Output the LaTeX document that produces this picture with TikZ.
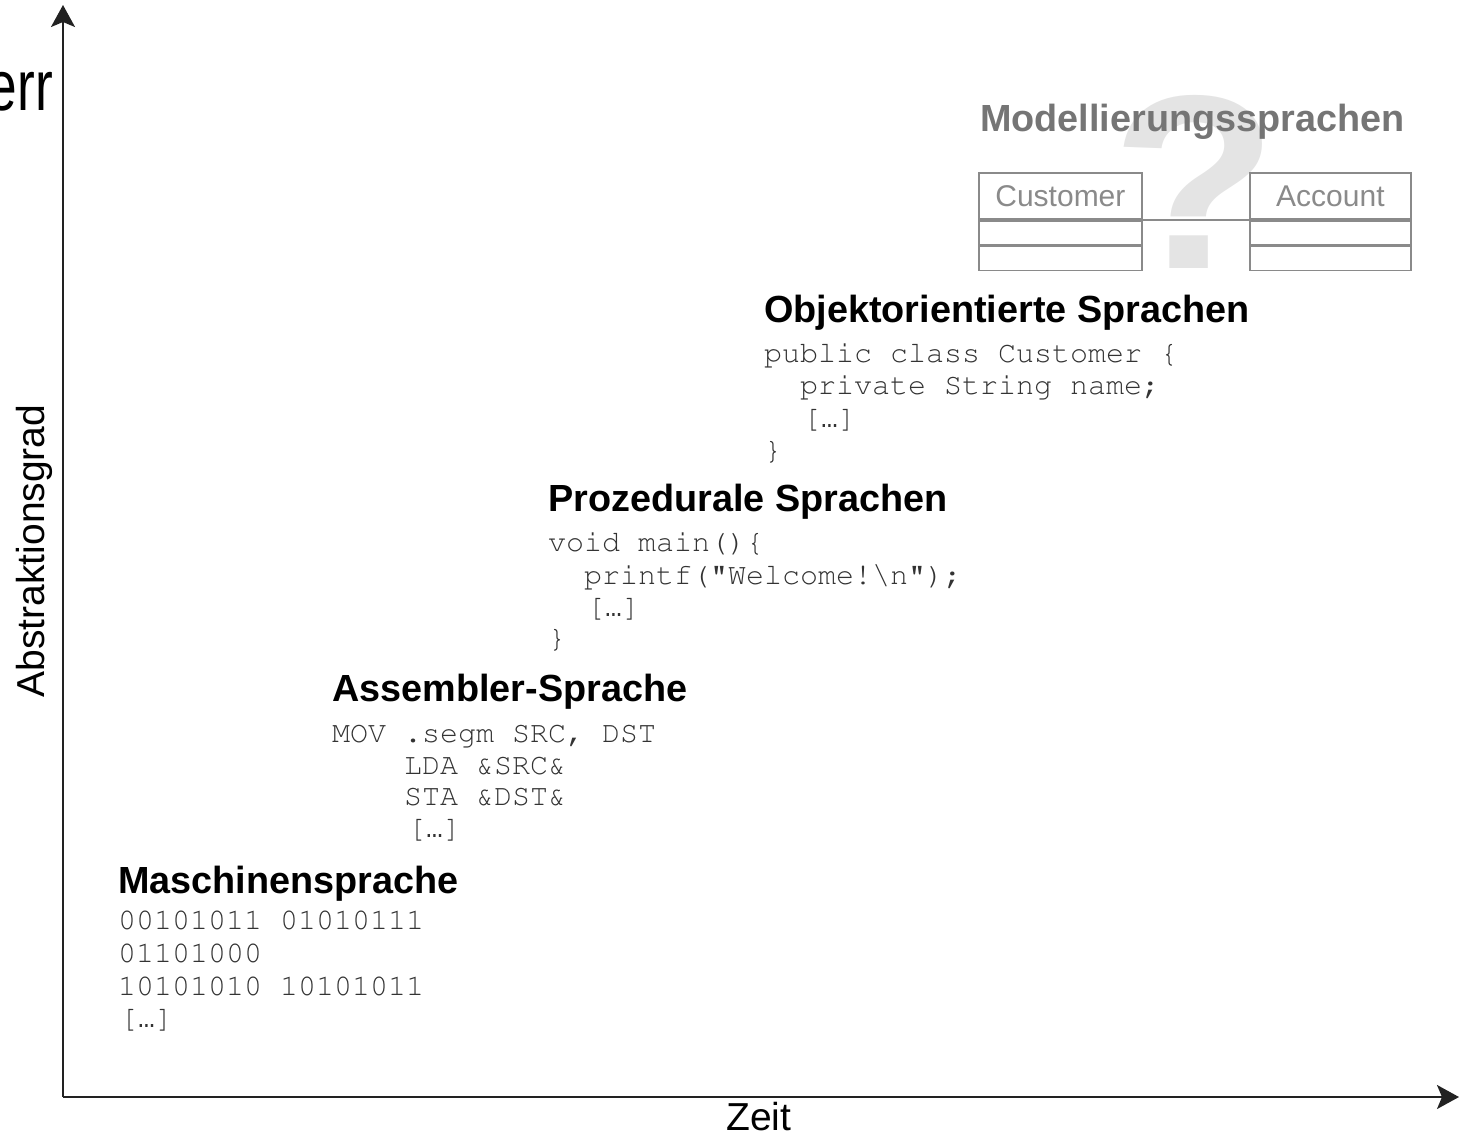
\documentclass[tikz,border=0pt]{standalone}
\usepackage[T1]{fontenc}
\usepackage{fontspec}
\setmainfont{Liberation Sans}
\newfontfamily\ellipsisfont{Liberation Mono}
\newcommand\courierface{\fontencoding{T1}\fontfamily{pcr}\fontseries{m}\selectfont}
% bracketed one-character ellipsis used in the code samples
\newcommand\codeellipsis{[{\ellipsisfont\fontsize{28}{32}\selectfont …}]}
\usetikzlibrary{arrows.meta}
\definecolor{axisc}{HTML}{222222}
\definecolor{codec}{HTML}{333333}
\definecolor{umlc}{HTML}{8A8A8A}
\definecolor{qmark}{HTML}{E4E4E4}
\tikzset{
  heading/.style={anchor=base west, inner sep=0pt, font=\bfseries\fontsize{37.8}{40}\selectfont, text=black},
  codeline/.style={anchor=base west, inner sep=0pt, font=\courierface\fontsize{30}{32}\selectfont, text=codec},
  axis/.style={draw=axisc, line width=2pt, -{Stealth[length=22pt,width=24pt,inset=5pt]}},
  axislabel/.style={inner sep=0pt, font=\fontsize{39}{44}\selectfont, text=black},
  umlbox/.style={draw=umlc, line width=1.8pt, fill=white, inner sep=0pt, minimum width=163pt},
  umltext/.style={font=\fontsize{30}{34}\selectfont, text=umlc},
}
\begin{document}
\begin{tikzpicture}[x=1pt,y=-1pt]
\useasboundingbox (0,0) rectangle (1460,1136);

% cut-off title fragment at the top left
\node[anchor=base east, inner sep=0pt, font=\fontsize{71}{80}\selectfont, xscale=0.75] (frag) at (53,110) {err};

% large question mark behind the modelling notation
\node[anchor=base, inner sep=0pt, font=\bfseries\fontsize{248}{248}\selectfont, text=qmark, xscale=1.1] (qm) at (1195,268) {?};

% axes
\coordinate (origin) at (63,1097);
\coordinate (ytip) at (63,5);
\coordinate (xtip) at (1459,1097);
\draw[axis] (origin) -- (ytip);
\draw[axis] (origin) -- (xtip);
\node[axislabel, rotate=90] (ylab) at (34,551) {Abstraktionsgrad};
\node[axislabel, anchor=base west] (xlab) at (726,1130) {Zeit};

% Maschinensprache
\node[heading] (h1) at (118,893) {Maschinensprache};
\node[codeline] (m1) at (118,929) {00101011 01010111};
\node[codeline] (m2) at (118,962) {01101000};
\node[codeline] (m3) at (118,995) {10101010 10101011};
\node[codeline] (m4) at (120,1027) {\codeellipsis};

% Assembler-Sprache
\node[heading] (h2) at (332,701) {Assembler-Sprache};
\node[codeline] (a1) at (332,742) {MOV .segm SRC, DST};
\node[codeline] (a2) at (404,774) {LDA \&SRC\&};
\node[codeline] (a3) at (404,805) {STA \&DST\&};
\node[codeline] (a4) at (408,837) {\codeellipsis};

% Prozedurale Sprachen
\node[heading] (h3) at (548,511) {Prozedurale Sprachen};
\node[codeline] (p1) at (548,551) {void main()\{};
\node[codeline] (p2) at (584,584) {printf("Welcome!\textbackslash n");};
\node[codeline] (p3) at (587,616) {\codeellipsis};
\node[codeline] (p4) at (548,647) {\}};

% Objektorientierte Sprachen
\node[heading] (h4) at (764,322) {Objektorientierte Sprachen};
\node[codeline] (o1) at (764,362) {public class Customer \{};
\node[codeline] (o2) at (800,394) {private String name;};
\node[codeline] (o3) at (803,427) {\codeellipsis};
\node[codeline] (o4) at (764,459) {\}};

% Modellierungssprachen
\node[heading, text=umlc!85!black] (h5) at (980,131) {Modellierungssprachen};
\node[umlbox, minimum height=46pt, anchor=north west, umltext] (cname) at (978,172) {Customer};
\node[umlbox, minimum height=24pt, anchor=north] (cattr) at (cname.south) {};
\node[umlbox, minimum height=24pt, anchor=north] (cops) at (cattr.south) {};
\node[umlbox, minimum width=161pt, minimum height=46pt, anchor=north west, umltext] (aname) at (1249,172) {Account};
\node[umlbox, minimum width=161pt, minimum height=24pt, anchor=north] (aattr) at (aname.south) {};
\node[umlbox, minimum width=161pt, minimum height=24pt, anchor=north] (aops) at (aattr.south) {};
\draw[draw=umlc, line width=1.8pt] (cname.south east) -- (aname.south west);
\end{tikzpicture}
\end{document}
